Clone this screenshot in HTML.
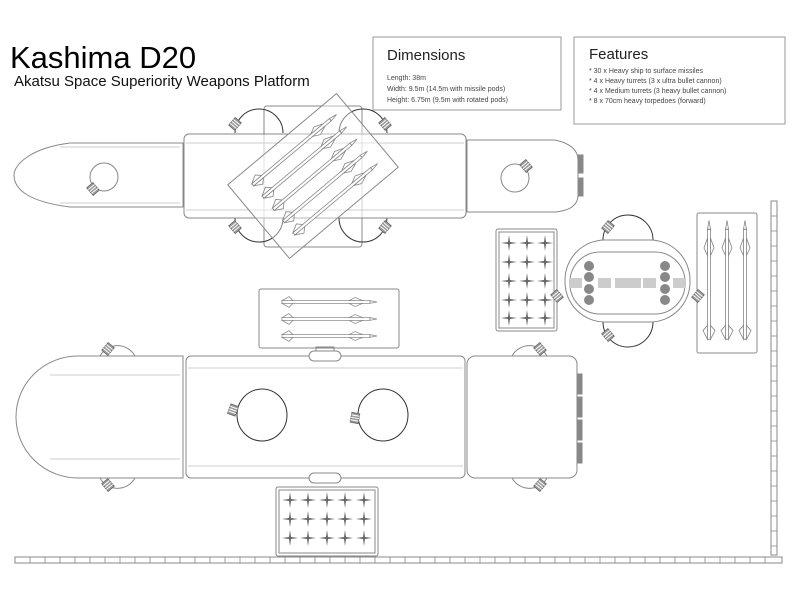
<!DOCTYPE html>
<html><head><meta charset="utf-8"><style>
html,body{margin:0;padding:0;background:#fff;}
svg{display:block;font-family:"Liberation Sans",Arial,sans-serif;}
</style></head><body>
<svg width="800" height="600" viewBox="0 0 800 600" xmlns="http://www.w3.org/2000/svg">
<defs>
<g id="grill"><rect x="-5" y="-4" width="10" height="8" fill="#999" stroke="#666" stroke-width="0.8"/><line x1="-2.5" y1="-4" x2="-2.5" y2="4" stroke="#fff"/><line x1="0" y1="-4" x2="0" y2="4" stroke="#fff"/><line x1="2.5" y1="-4" x2="2.5" y2="4" stroke="#fff"/></g>
<g id="star"><path d="M0,-8 L1,-1 L8,0 L1,1 L0,8 L-1,1 L-8,0 L-1,-1Z" fill="#666"/></g>
<g id="msl" fill="#fff" stroke="#888" stroke-width="0.8"><rect x="-45" y="-1.5" width="88" height="3"/><path d="M43,-1.5 L50,0 L43,1.5Z"/><path d="M-45,-1.5 L-38,-6 L-34,-1.5Z M-45,1.5 L-38,6 L-34,1.5Z"/><path d="M22,-1.5 L28,-5 L36,-1.5Z M22,1.5 L28,5 L36,1.5Z"/></g>
</defs>
<g fill="none" stroke="#888" stroke-width="1">
<rect x="373" y="37" width="188" height="73" stroke="#999"/>
<rect x="574" y="37" width="211" height="87" stroke="#999"/>
<rect x="264" y="106" width="98" height="141" rx="3" fill="#fff"/>
<path d="M235,133 A24,24 0 0 1 283,133 M339,133 A24,24 0 0 1 387,133 M235,218 A24,24 0 0 0 283,218 M339,218 A24,24 0 0 0 387,218" stroke="#333"/>
<path d="M183,143 H70 C30,148 14,165 14,175 C14,190 30,202 70,207 H183 Z" fill="#fff"/>
<line x1="60" y1="147" x2="180" y2="147" stroke="#ccc"/><line x1="60" y1="203" x2="180" y2="203" stroke="#ccc"/>
<circle cx="104" cy="177" r="14"/>
<rect x="184" y="134" width="282" height="84" rx="5" fill="#fff" fill-opacity="0.6"/>
<line x1="186" y1="143" x2="464" y2="143" stroke="#ccc"/><line x1="186" y1="210" x2="464" y2="210" stroke="#ccc"/>
<path d="M467,140 H555 Q578,145 578,160 V195 Q578,210 555,212 H467 Z" fill="#fff"/>
<circle cx="515" cy="178" r="14"/>
<rect x="578" y="155" width="5" height="18" fill="#888"/><rect x="578" y="178" width="5" height="18" fill="#888"/>
<g transform="translate(313,176) rotate(-40)">
<rect x="-71" y="-48" width="142" height="96" fill="#fff" fill-opacity="0.4"/>
<use href="#msl" transform="translate(0,-32) scale(1.15,1)"/><use href="#msl" transform="translate(0,-16) scale(1.15,1)"/><use href="#msl" transform="translate(0,0) scale(1.15,1)"/><use href="#msl" transform="translate(0,16) scale(1.15,1)"/><use href="#msl" transform="translate(0,32) scale(1.15,1)"/>
</g>
<rect x="496" y="229" width="61" height="102" rx="2"/><rect x="499" y="232" width="55" height="96"/>
<path d="M603,240 A25,25 0 0 1 653,240 M603,322 A25,25 0 0 0 653,322" stroke="#333"/>
<rect x="565" y="240" width="125" height="82" rx="40" fill="#fff"/>
<rect x="570" y="252" width="115" height="62" rx="30"/>
<rect x="697" y="213" width="60" height="140" rx="2"/>
<rect x="771" y="201" width="6" height="354"/>
<rect x="259" y="289" width="140" height="59" rx="2"/>
<path d="M100,356 A20,20 0 0 1 135,356 M100,478 A20,20 0 0 0 135,478 M512,356 A20,20 0 0 1 547,356 M512,478 A20,20 0 0 0 547,478"/>
<path d="M183,356 H78 A62,61 0 0 0 78,478 H183 Z" fill="#fff"/>
<line x1="50" y1="375" x2="180" y2="375" stroke="#ccc"/><line x1="50" y1="459" x2="180" y2="459" stroke="#ccc"/>
<rect x="186" y="356" width="279" height="122" rx="5" fill="#fff"/>
<line x1="188" y1="368" x2="463" y2="368" stroke="#ccc"/><line x1="188" y1="466" x2="463" y2="466" stroke="#ccc"/>
<rect x="467" y="356" width="110" height="122" rx="8" fill="#fff"/>
<rect x="577" y="374" width="5" height="20" fill="#888"/><rect x="577" y="397" width="5" height="20" fill="#888"/><rect x="577" y="420" width="5" height="20" fill="#888"/><rect x="577" y="443" width="5" height="20" fill="#888"/>
<ellipse cx="262" cy="415" rx="25" ry="26" stroke="#333"/><ellipse cx="383" cy="415" rx="25" ry="26" stroke="#333"/>
<rect x="316" y="347" width="18" height="6"/><rect x="309" y="351" width="32" height="10" rx="5" fill="#fff"/>
<rect x="309" y="473" width="32" height="10" rx="5" fill="#fff"/>
<rect x="276" y="487" width="102" height="69" rx="2"/><rect x="279" y="490" width="96" height="63"/>
<rect x="15" y="557" width="767" height="6"/>
</g>
<use href="#grill" transform="translate(235,124) rotate(-50)"/><use href="#grill" transform="translate(385,124) rotate(50)"/>
<use href="#grill" transform="translate(235,227) rotate(50)"/><use href="#grill" transform="translate(385,227) rotate(-50)"/>
<use href="#grill" transform="translate(93,189) rotate(50)"/><use href="#grill" transform="translate(526,166) rotate(50)"/>
<use href="#grill" transform="translate(608,227) rotate(-50)"/><use href="#grill" transform="translate(608,335) rotate(50)"/>
<use href="#grill" transform="translate(557,296) rotate(50)"/><use href="#grill" transform="translate(698,296) rotate(-50)"/>
<use href="#grill" transform="translate(108,349) rotate(-50)"/><use href="#grill" transform="translate(108,485) rotate(50)"/>
<use href="#grill" transform="translate(540,349) rotate(50)"/><use href="#grill" transform="translate(540,485) rotate(-50)"/>
<use href="#grill" transform="translate(233,410) rotate(-70)"/><use href="#grill" transform="translate(355,418) rotate(-80)"/>
<g fill="#888"><circle cx="589" cy="266" r="5"/><circle cx="589" cy="277" r="5"/><circle cx="589" cy="289" r="5"/><circle cx="589" cy="300" r="5"/>
<circle cx="665" cy="266" r="5"/><circle cx="665" cy="277" r="5"/><circle cx="665" cy="289" r="5"/><circle cx="665" cy="300" r="5"/></g>
<g fill="#ccc"><rect x="570" y="278" width="12" height="10"/><rect x="598" y="278" width="13" height="10"/><rect x="615" y="278" width="26" height="10"/><rect x="643" y="278" width="13" height="10"/><rect x="673" y="278" width="12" height="10"/></g>
<g><use href="#star" x="509" y="243"/><use href="#star" x="527" y="243"/><use href="#star" x="545" y="243"/>
<use href="#star" x="509" y="262"/><use href="#star" x="527" y="262"/><use href="#star" x="545" y="262"/>
<use href="#star" x="509" y="281"/><use href="#star" x="527" y="281"/><use href="#star" x="545" y="281"/>
<use href="#star" x="509" y="300"/><use href="#star" x="527" y="300"/><use href="#star" x="545" y="300"/>
<use href="#star" x="509" y="318"/><use href="#star" x="527" y="318"/><use href="#star" x="545" y="318"/>
<use href="#star" x="290" y="500"/><use href="#star" x="308" y="500"/><use href="#star" x="327" y="500"/><use href="#star" x="345" y="500"/><use href="#star" x="364" y="500"/>
<use href="#star" x="290" y="519"/><use href="#star" x="308" y="519"/><use href="#star" x="327" y="519"/><use href="#star" x="345" y="519"/><use href="#star" x="364" y="519"/>
<use href="#star" x="290" y="538"/><use href="#star" x="308" y="538"/><use href="#star" x="327" y="538"/><use href="#star" x="345" y="538"/><use href="#star" x="364" y="538"/></g>
<use href="#msl" transform="translate(327,302) scale(1,0.9)"/><use href="#msl" transform="translate(327,319) scale(1,0.9)"/><use href="#msl" transform="translate(327,336) scale(1,0.9)"/>
<use href="#msl" transform="translate(709,283) rotate(-90) scale(1.25,1)"/><use href="#msl" transform="translate(727,283) rotate(-90) scale(1.25,1)"/><use href="#msl" transform="translate(745,283) rotate(-90) scale(1.25,1)"/>
<g stroke="#888" stroke-width="0.8">
<path d="M30,557V563M45,557V563M60,557V563M75,557V563M90,557V563M105,557V563M120,557V563M135,557V563M150,557V563M165,557V563M180,557V563M195,557V563M210,557V563M225,557V563M240,557V563M255,557V563M270,557V563M285,557V563M300,557V563M315,557V563M330,557V563M345,557V563M360,557V563M375,557V563M390,557V563M405,557V563M420,557V563M435,557V563M450,557V563M465,557V563M480,557V563M495,557V563M510,557V563M525,557V563M540,557V563M555,557V563M570,557V563M585,557V563M600,557V563M615,557V563M630,557V563M645,557V563M660,557V563M675,557V563M690,557V563M705,557V563M720,557V563M735,557V563M750,557V563M765,557V563"/>
<path d="M771,216H777M771,231H777M771,246H777M771,261H777M771,276H777M771,291H777M771,306H777M771,321H777M771,336H777M771,351H777M771,366H777M771,381H777M771,396H777M771,411H777M771,426H777M771,441H777M771,456H777M771,471H777M771,486H777M771,501H777M771,516H777M771,531H777M771,546H777"/>
</g>
<text x="10" y="68" font-size="31" fill="#000">Kashima D20</text>
<text x="14" y="86" font-size="15" fill="#111">Akatsu Space Superiority Weapons Platform</text>
<text x="387" y="60" font-size="15" fill="#222">Dimensions</text>
<g font-size="7" fill="#444"><text x="387" y="80">Length: 38m</text><text x="387" y="91">Width: 9.5m (14.5m with missile pods)</text><text x="387" y="102">Height: 6.75m (9.5m with rotated pods)</text>
<text x="589" y="73">* 30 x Heavy ship to surface missiles</text><text x="589" y="83">* 4 x Heavy turrets (3 x ultra bullet cannon)</text><text x="589" y="93">* 4 x Medium turrets (3 heavy bullet cannon)</text><text x="589" y="103">* 8 x 70cm heavy torpedoes (forward)</text></g>
<text x="589" y="59" font-size="15" fill="#222">Features</text>
</svg>
</body></html>
